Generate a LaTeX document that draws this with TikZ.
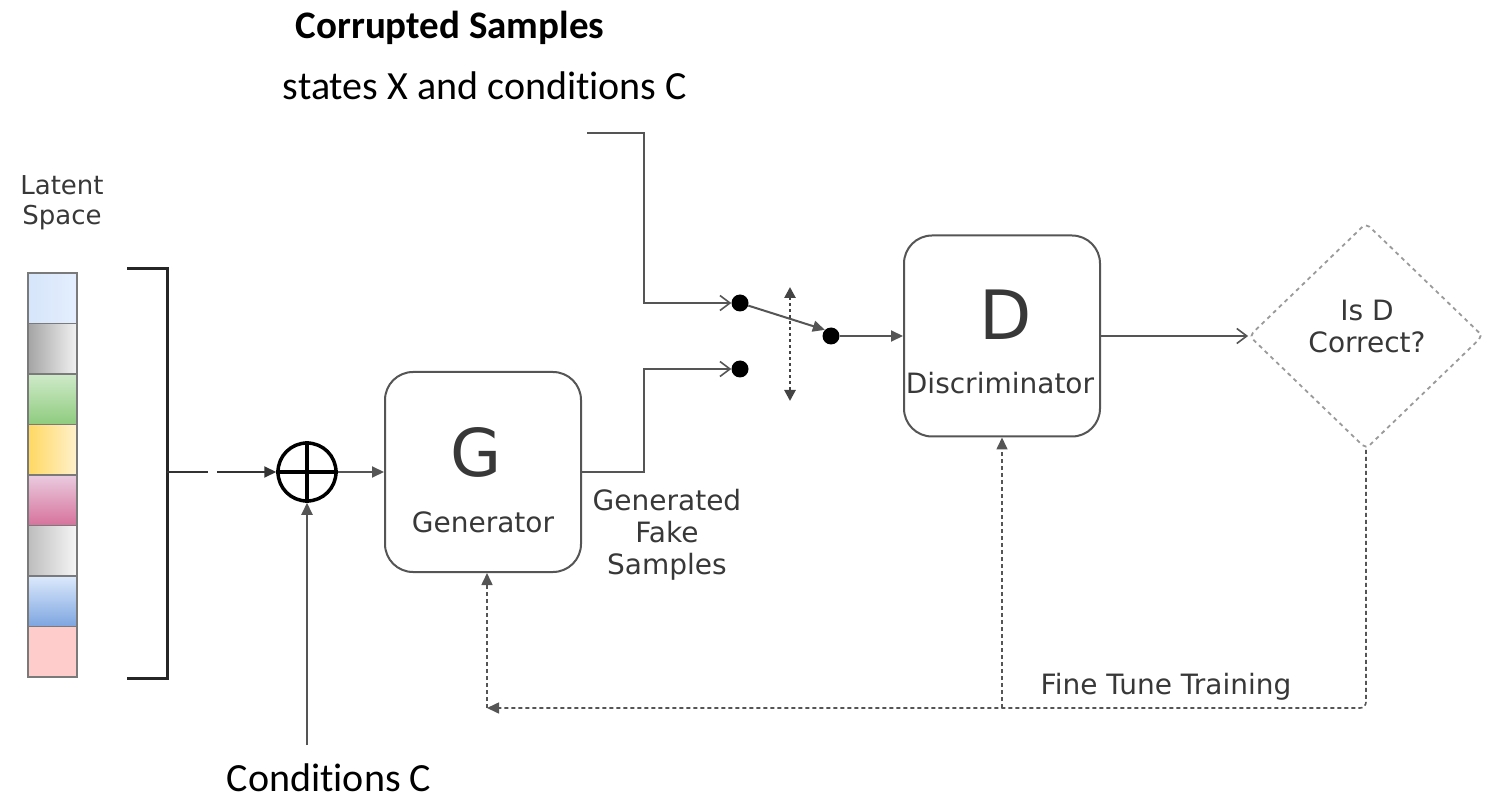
\documentclass[tikz,border=0pt]{standalone}
\usepackage{fontspec}
\setmainfont{DejaVu Sans}
\newfontfamily\carlito[Ligatures=NoCommon]{Carlito}
\usetikzlibrary{arrows.meta,shapes.geometric,calc}

\definecolor{linegray}{HTML}{555555}
\definecolor{dashgray}{HTML}{9A9A9A}
\definecolor{txtgray}{HTML}{383838}
\definecolor{cellline}{HTML}{7A7A7A}
\definecolor{cBlueA}{HTML}{D6E5FB}
\definecolor{cBlueB}{HTML}{E4EEFD}
\definecolor{cGrayA}{HTML}{A4A4A4}
\definecolor{cGrayB}{HTML}{F2F2F2}
\definecolor{cGreenA}{HTML}{CFEAC9}
\definecolor{cGreenB}{HTML}{8ECB7E}
\definecolor{cYellowA}{HTML}{FFD862}
\definecolor{cYellowB}{HTML}{FFF1CC}
\definecolor{cPinkA}{HTML}{EACBDF}
\definecolor{cPinkB}{HTML}{D6729B}
\definecolor{cSilverA}{HTML}{BDBDBD}
\definecolor{cSilverB}{HTML}{F6F6F6}
\definecolor{cSkyA}{HTML}{DCE9FC}
\definecolor{cSkyB}{HTML}{7DA5E0}
\definecolor{cRose}{HTML}{FFCCCC}

\tikzset{
  wire/.style={draw=linegray, line width=2pt},
  opentip/.style={-{Straight Barb[length=10pt,width=15pt,line width=1.6pt]}},
  filltip/.style={-{Triangle[length=12pt,width=11pt]}},
  feedback/.style={draw=linegray, line width=1.6pt, dash pattern=on 4pt off 3pt},
  block/.style={draw=linegray, line width=2pt, rounded corners=28pt, fill=white},
  junction/.style={circle, fill=black, inner sep=0pt, minimum size=17pt},
  cell/.style={draw=cellline, line width=1.5pt},
  lbl/.style={text=txtgray, font=\fontsize{28}{34}\selectfont, align=center},
  biglbl/.style={text=txtgray, font=\fontsize{68}{70}\selectfont, inner sep=0pt},
  toptext/.style={text=black, font=\carlito\fontsize{40}{46}\selectfont, inner sep=0pt}
}

\begin{document}
\begin{tikzpicture}[x=1pt,y=-1pt]
\useasboundingbox (0,0) rectangle (1489,799);

% headings
\node[toptext, font=\carlito\bfseries\fontsize{39}{44}\selectfont] (hd1) at (450,28) {Corrupted Samples};
\node[toptext] (hd2) at (485,86) {states X and conditions C};

% latent vector
\node[lbl, font=\fontsize{26}{33}\selectfont] (lat) at (62,203) {Latent\\[-3pt]Space};
\path[cell, left color=cBlueA, right color=cBlueB]   (28,273)   rectangle (77,323.5);
\path[cell, left color=cGrayA, right color=cGrayB]   (28,323.5) rectangle (77,374);
\path[cell, top color=cGreenA, bottom color=cGreenB] (28,374)   rectangle (77,424.5);
\path[cell, left color=cYellowA, right color=cYellowB] (28,424.5) rectangle (77,475);
\path[cell, top color=cPinkA, bottom color=cPinkB]   (28,475)   rectangle (77,525.5);
\path[cell, left color=cSilverA, right color=cSilverB] (28,525.5) rectangle (77,576);
\path[cell, top color=cSkyA, bottom color=cSkyB]     (28,576)   rectangle (77,626.5);
\path[cell, fill=cRose]                              (28,626.5) rectangle (77,677);

% bracket gathering the latent vector
\draw[line width=3pt, black!85] (127,269) -- (167,269) -- (167,678) -- (127,678);
\coordinate (brk) at (167,472);
\coordinate (gap) at (217,472);

% concatenation
\node[circle, draw=black, line width=3.5pt, minimum size=58pt, inner sep=0pt] (cat) at (307,472) {};
\draw[line width=3.5pt] (cat.north) -- (cat.south) (cat.west) -- (cat.east);

\draw[line width=2pt, black!80] (brk) -- (208,472);
\draw[line width=2pt, black!80, filltip] (gap) -- (cat.west);

% conditions
\node[toptext] (cond) at (329,778) {Conditions C};
\coordinate (condtop) at (307,745);
\draw[wire, filltip] (condtop) -- (cat.south);

% generator
\node[block, minimum width=196pt, minimum height=200pt] (G) at (483,472) {};
\node[biglbl, font=\fontsize{66}{68}\selectfont] (Gl) at (476,452) {G};
\node[lbl] (Gt) at (483,522) {Generator};
\draw[wire, filltip] (cat.east) -- (G.west);

\node[lbl] (fake) at (667,535) {Generated\\[-2pt]Fake\\[-2pt]Samples};

% switch
\node[junction] (s1) at (740,303) {};
\node[junction] (s2) at (740,369) {};
\node[junction] (s3) at (831,336) {};
\coordinate (cin) at (587,133);
\coordinate (k1) at (644,303);
\coordinate (k2) at (644,369);
\draw[wire, opentip] (cin) -| (k1) -- (s1.west);
\draw[wire, opentip] (G.east) -| (k2) -- (s2.west);
\draw[wire, filltip] (s1) -- (s3.north west);
\coordinate (swT) at (790,287);
\coordinate (swB) at (790,401);
\draw[draw=linegray!80!black, line width=2.6pt, dash pattern=on 3pt off 3pt,
      {Triangle[length=11pt,width=11pt]}-{Triangle[length=11pt,width=11pt]}] (swT) -- (swB);

% discriminator
\node[block, minimum width=196pt, minimum height=201pt] (D) at (1002,336) {};
\node[biglbl] (Dl) at (1006,315) {D};
\node[lbl] (Dt) at (1000,383) {Discriminator};
\draw[wire, filltip] (s3) -- (D.west);

% decision
\node[diamond, draw=dashgray, line width=1.8pt, dash pattern=on 4pt off 4pt,
      minimum width=234pt, minimum height=226pt, inner sep=0pt,
      rounded corners=5pt] (dec) at (1366,336) {};
\node[lbl] (dect) at (1367,326) {Is D\\[-2pt]Correct?};
\draw[wire, opentip] (D.east) -- (dec.west);

% training feedback
\coordinate (fbR) at (1366,708);
\coordinate (fbJ) at (1002,708);
\coordinate (fbL) at (487,708);
\draw[feedback, rounded corners=6pt, filltip] (dec.south) |- (fbL);
\draw[feedback, filltip] (fbJ) -- (D.south);
\draw[feedback, filltip] (fbL) -- (fbL |- G.south);
\node[lbl] (ft) at (1166,687) {Fine Tune Training};

\end{tikzpicture}
\end{document}
